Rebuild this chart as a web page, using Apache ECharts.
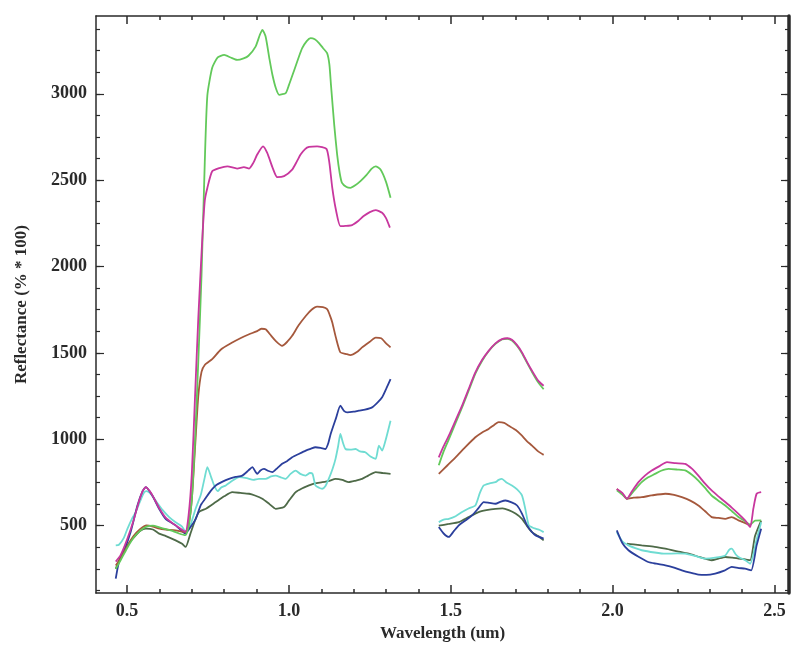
<!DOCTYPE html>
<html>
<head>
<meta charset="utf-8">
<script src="https://cdn.jsdelivr.net/npm/echarts@6/dist/echarts.min.js"></script>
<style>html,body{margin:0;padding:0;background:#fff}#c{width:794px;height:647px}</style>
</head>
<body>
<div id="c"></div>
<script>
// ---- axis ticks / labels ----
const xMajorTicks = [0.5, 1.0, 1.5, 2.0, 2.5];
const xMinorTicks = [0.5,0.6,0.7,0.8,0.9,1.0,1.1,1.2,1.3,1.4,1.5,1.6,1.7,1.8,1.9,2.0,2.1,2.2,2.3,2.4,2.5];
const yMajorTicks = [500, 1000, 1500, 2000, 2500, 3000];
const yMinorTicks = [125,250,375,500,625,750,875,1000,1125,1250,1375,1500,1625,1750,1875,2000,2125,2250,2375,2500,2625,2750,2875,3000,3125,3250,3375];
const xRange = [0.404, 2.545];
const yRange = [110, 3450];

// ---- spectra: [wavelength (um), reflectance (% * 100)], three spectral windows ----
const green1 = [[0.465,250],[0.48,300],[0.50,370],[0.52,430],[0.54,470],[0.56,495],[0.58,500],[0.60,490],[0.62,480],[0.64,470],[0.66,455],[0.68,445],[0.69,500],[0.70,650],[0.71,1000],[0.72,1450],[0.73,1950],[0.74,2600],[0.748,2990],[0.763,3150],[0.78,3210],[0.80,3225],[0.82,3210],[0.84,3196],[0.86,3205],[0.875,3220],[0.897,3273],[0.91,3340],[0.918,3370],[0.928,3331],[0.94,3200],[0.949,3110],[0.96,3030],[0.97,2994],[0.99,3004],[1.0,3050],[1.015,3129],[1.03,3210],[1.041,3264],[1.055,3305],[1.067,3322],[1.08,3315],[1.093,3293],[1.105,3265],[1.118,3235],[1.125,3170],[1.13,3050],[1.14,2820],[1.149,2648],[1.157,2540],[1.164,2484],[1.178,2460],[1.19,2455],[1.205,2470],[1.221,2494],[1.24,2530],[1.255,2565],[1.268,2580],[1.283,2561],[1.30,2490],[1.314,2398]];
const green2 = [[1.463,850],[1.478,930],[1.494,1000],[1.515,1095],[1.535,1185],[1.555,1280],[1.576,1380],[1.597,1455],[1.617,1510],[1.638,1552],[1.658,1578],[1.675,1582],[1.689,1572],[1.705,1540],[1.72,1498],[1.735,1445],[1.751,1390],[1.77,1330],[1.787,1290]];
const green3 = [[2.013,705],[2.03,680],[2.044,656],[2.065,700],[2.09,752],[2.11,780],[2.131,800],[2.15,818],[2.173,829],[2.2,825],[2.224,820],[2.245,795],[2.265,761],[2.285,720],[2.306,675],[2.327,645],[2.348,617],[2.368,585],[2.389,550],[2.41,525],[2.425,506],[2.44,530],[2.459,531]];

const magenta1 = [[0.465,292],[0.48,330],[0.50,420],[0.52,530],[0.535,630],[0.548,700],[0.558,723],[0.57,700],[0.58,670],[0.60,600],[0.62,545],[0.64,515],[0.66,490],[0.68,465],[0.69,560],[0.70,800],[0.71,1250],[0.72,1700],[0.732,2147],[0.74,2380],[0.748,2455],[0.763,2551],[0.785,2570],[0.81,2580],[0.84,2567],[0.861,2575],[0.877,2567],[0.89,2600],[0.902,2648],[0.92,2696],[0.933,2658],[0.95,2570],[0.964,2517],[0.985,2523],[1.01,2561],[1.025,2610],[1.036,2648],[1.05,2680],[1.062,2692],[1.087,2696],[1.116,2681],[1.125,2600],[1.134,2455],[1.145,2330],[1.159,2234],[1.175,2235],[1.195,2240],[1.215,2265],[1.231,2292],[1.25,2315],[1.268,2327],[1.288,2311],[1.30,2280],[1.312,2225]];
const magenta2 = [[1.463,896],[1.478,960],[1.494,1021],[1.515,1110],[1.535,1195],[1.555,1290],[1.576,1387],[1.597,1460],[1.617,1512],[1.638,1555],[1.658,1580],[1.675,1585],[1.689,1576],[1.705,1545],[1.72,1503],[1.735,1450],[1.751,1397],[1.77,1340],[1.787,1310]];
const magenta3 = [[2.013,713],[2.03,690],[2.044,656],[2.06,700],[2.08,752],[2.10,790],[2.121,819],[2.145,845],[2.168,868],[2.195,862],[2.224,858],[2.245,830],[2.265,790],[2.285,745],[2.306,704],[2.327,670],[2.348,637],[2.368,605],[2.389,569],[2.41,530],[2.425,492],[2.435,600],[2.445,685],[2.459,694]];

const brown1 = [[0.465,270],[0.48,310],[0.50,380],[0.52,440],[0.54,480],[0.56,502],[0.58,495],[0.60,483],[0.62,478],[0.65,473],[0.68,463],[0.69,500],[0.70,650],[0.71,950],[0.72,1250],[0.73,1390],[0.74,1430],[0.763,1464],[0.79,1520],[0.825,1560],[0.85,1585],[0.877,1608],[0.90,1625],[0.915,1640],[0.928,1637],[0.945,1600],[0.959,1570],[0.979,1541],[0.995,1565],[1.01,1599],[1.03,1660],[1.052,1714],[1.07,1750],[1.087,1768],[1.105,1765],[1.118,1753],[1.126,1720],[1.134,1676],[1.145,1590],[1.159,1503],[1.175,1495],[1.19,1487],[1.21,1505],[1.226,1532],[1.25,1565],[1.268,1589],[1.285,1585],[1.298,1560],[1.314,1532]];
const brown2 = [[1.463,800],[1.49,850],[1.515,896],[1.545,955],[1.576,1012],[1.597,1040],[1.617,1060],[1.635,1085],[1.648,1099],[1.665,1095],[1.679,1079],[1.70,1055],[1.72,1021],[1.735,990],[1.751,964],[1.77,930],[1.787,910]];
const brown3 = [[2.013,713],[2.03,685],[2.044,656],[2.065,662],[2.09,665],[2.12,675],[2.163,685],[2.19,678],[2.214,665],[2.24,645],[2.265,617],[2.285,585],[2.306,550],[2.327,545],[2.348,540],[2.368,550],[2.389,531],[2.41,515],[2.425,502]];

const blue1 = [[0.465,194],[0.475,290],[0.49,350],[0.511,463],[0.532,617],[0.548,700],[0.558,723],[0.578,675],[0.599,598],[0.619,540],[0.65,502],[0.68,455],[0.695,490],[0.712,540],[0.728,620],[0.743,660],[0.758,700],[0.774,733],[0.795,755],[0.815,771],[0.835,782],[0.856,790],[0.875,820],[0.887,839],[0.902,800],[0.912,820],[0.923,829],[0.935,818],[0.949,810],[0.965,835],[0.979,858],[0.995,875],[1.01,896],[1.03,915],[1.052,935],[1.067,945],[1.082,954],[1.098,950],[1.113,944],[1.122,980],[1.129,1031],[1.145,1120],[1.159,1195],[1.17,1165],[1.18,1156],[1.2,1160],[1.216,1166],[1.235,1172],[1.257,1185],[1.275,1215],[1.288,1243],[1.30,1290],[1.314,1349]];
const blue2 = [[1.463,492],[1.478,455],[1.494,435],[1.51,470],[1.525,502],[1.545,530],[1.566,560],[1.585,600],[1.602,637],[1.62,632],[1.638,627],[1.655,640],[1.669,646],[1.688,635],[1.705,617],[1.72,570],[1.736,502],[1.75,465],[1.762,444],[1.787,425]];
const blue3 = [[2.013,473],[2.03,400],[2.049,358],[2.08,320],[2.11,290],[2.135,280],[2.163,271],[2.19,258],[2.214,242],[2.24,228],[2.265,217],[2.29,215],[2.317,223],[2.345,240],[2.368,262],[2.39,255],[2.409,252],[2.428,242],[2.445,386],[2.459,483]];

const cyan1 = [[0.465,386],[0.475,390],[0.49,430],[0.501,482],[0.515,540],[0.527,579],[0.54,640],[0.552,690],[0.56,700],[0.575,680],[0.59,640],[0.61,590],[0.63,550],[0.65,520],[0.67,495],[0.68,465],[0.695,500],[0.712,600],[0.728,680],[0.74,780],[0.748,839],[0.76,780],[0.769,733],[0.78,700],[0.79,720],[0.805,733],[0.825,760],[0.846,781],[0.87,775],[0.89,765],[0.907,771],[0.928,771],[0.945,785],[0.959,790],[0.975,780],[0.99,771],[1.005,800],[1.021,819],[1.035,800],[1.052,790],[1.065,805],[1.073,800],[1.082,733],[1.093,720],[1.103,714],[1.113,730],[1.123,771],[1.135,830],[1.144,887],[1.152,960],[1.159,1031],[1.167,980],[1.175,944],[1.19,940],[1.206,944],[1.22,930],[1.236,925],[1.252,900],[1.268,887],[1.278,964],[1.288,935],[1.298,990],[1.314,1108]];
const cyan2 = [[1.463,521],[1.478,535],[1.494,540],[1.515,555],[1.535,579],[1.555,600],[1.576,617],[1.59,690],[1.602,733],[1.62,745],[1.638,752],[1.648,765],[1.658,771],[1.672,750],[1.689,733],[1.705,710],[1.72,675],[1.73,600],[1.741,502],[1.752,490],[1.762,483],[1.775,475],[1.787,463]];
const cyan3 = [[2.013,463],[2.03,410],[2.049,386],[2.07,370],[2.09,358],[2.13,345],[2.163,338],[2.2,340],[2.224,338],[2.255,325],[2.286,310],[2.317,315],[2.348,328],[2.36,360],[2.368,367],[2.38,335],[2.389,319],[2.41,300],[2.425,280],[2.445,420],[2.459,520]];

const dark1 = [[0.465,250],[0.475,300],[0.49,350],[0.501,386],[0.515,420],[0.527,444],[0.54,470],[0.558,483],[0.58,478],[0.599,454],[0.62,440],[0.65,415],[0.67,395],[0.681,377],[0.695,450],[0.71,530],[0.722,579],[0.745,600],[0.774,637],[0.80,670],[0.825,694],[0.85,690],[0.877,685],[0.895,675],[0.918,656],[0.94,625],[0.959,598],[0.985,608],[1.0,645],[1.021,694],[1.04,715],[1.062,733],[1.08,745],[1.103,752],[1.125,760],[1.144,771],[1.165,765],[1.185,752],[1.205,760],[1.226,771],[1.245,790],[1.268,810],[1.29,805],[1.314,800]];
const dark2 = [[1.463,500],[1.494,510],[1.525,521],[1.555,550],[1.586,579],[1.61,590],[1.638,598],[1.66,600],[1.679,590],[1.70,570],[1.72,540],[1.735,500],[1.751,463],[1.77,440],[1.787,415]];
const dark3 = [[2.044,396],[2.065,392],[2.09,386],[2.13,378],[2.163,367],[2.2,352],[2.235,338],[2.27,318],[2.306,300],[2.327,310],[2.348,319],[2.37,315],[2.389,310],[2.41,305],[2.425,300],[2.44,440],[2.459,530]];

const seriesDefs = [
  {name: 'dark',    color: '#4e6a48', parts: [dark1, dark2, dark3]},
  {name: 'cyan',    color: '#6fdcd2', parts: [cyan1, cyan2, cyan3]},
  {name: 'blue',    color: '#2b3f9c', parts: [blue1, blue2, blue3]},
  {name: 'brown',   color: '#a5583c', parts: [brown1, brown2, brown3]},
  {name: 'green',   color: '#62c95a', parts: [green1, green2, green3]},
  {name: 'magenta', color: '#c8379e', parts: [magenta1, magenta2, magenta3]}
];

function joinParts(parts) {
  const out = [];
  parts.forEach((p, i) => {
    if (i > 0) out.push([p[0][0] - 0.01, null]);
    p.forEach(d => out.push(d));
  });
  return out;
}

const FONT = 'Liberation Serif';
const INK = '#2a2a2a';

function xAx(pos, ticks, len, showLabel, showLine, extra) {
  return Object.assign({
    type: 'value', position: pos, min: xRange[0], max: xRange[1],
    splitLine: {show: false},
    axisLine: {show: showLine, onZero: false, lineStyle: {color: INK, width: 1.5}},
    axisTick: {show: true, inside: true, length: len, customValues: ticks, lineStyle: {color: INK, width: 1.5}},
    axisLabel: showLabel ? {show: true, customValues: xMajorTicks, formatter: v => Number(v).toFixed(1), margin: 9,
      fontFamily: FONT, fontSize: 18, fontWeight: 'bold', color: INK} : {show: false}
  }, extra || {});
}
function yAx(pos, ticks, len, showLabel, showLine, lw, extra) {
  return Object.assign({
    type: 'value', position: pos, min: yRange[0], max: yRange[1],
    splitLine: {show: false},
    axisLine: {show: showLine, onZero: false, lineStyle: {color: INK, width: lw}},
    axisTick: {show: true, inside: true, length: len, customValues: ticks, lineStyle: {color: INK, width: 1.2}},
    axisLabel: showLabel ? {show: true, customValues: yMajorTicks, formatter: v => String(Math.round(v)), margin: 9,
      fontFamily: FONT, fontSize: 18, fontWeight: 'bold', color: INK} : {show: false}
  }, extra || {});
}

const chart = echarts.init(document.getElementById('c'), null, {renderer: 'canvas'});
chart.setOption({
  backgroundColor: '#fff',
  animation: false,
  grid: {left: 96, right: 5, top: 16, bottom: 53, containLabel: false},
  xAxis: [
    xAx('bottom', xMajorTicks, 8, true, true, {
      name: 'Wavelength (um)', nameLocation: 'middle', nameGap: 31,
      nameTextStyle: {fontFamily: FONT, fontSize: 17, fontWeight: 'bold', color: INK}
    }),
    xAx('bottom', xMinorTicks, 4, false, false),
    xAx('top', xMajorTicks, 8, false, true),
    xAx('top', xMinorTicks, 4, false, false)
  ],
  yAxis: [
    yAx('left', yMajorTicks, 8, true, true, 1.5, {
      name: 'Reflectance (% * 100)', nameLocation: 'middle', nameGap: 66,
      nameTextStyle: {fontFamily: FONT, fontSize: 17, fontWeight: 'bold', color: INK}
    }),
    yAx('left', yMinorTicks, 4, false, false, 1.5),
    yAx('right', yMajorTicks, 8, false, true, 3.5),
    yAx('right', yMinorTicks, 4, false, false, 3.5)
  ],
  series: seriesDefs.map(s => ({
    name: s.name, type: 'line', xAxisIndex: 0, yAxisIndex: 0,
    data: joinParts(s.parts), showSymbol: false, symbol: 'none',
    connectNulls: false, smooth: 0.2,
    lineStyle: {color: s.color, width: 1.8},
    itemStyle: {color: s.color}
  }))
});
</script>
</body>
</html>
